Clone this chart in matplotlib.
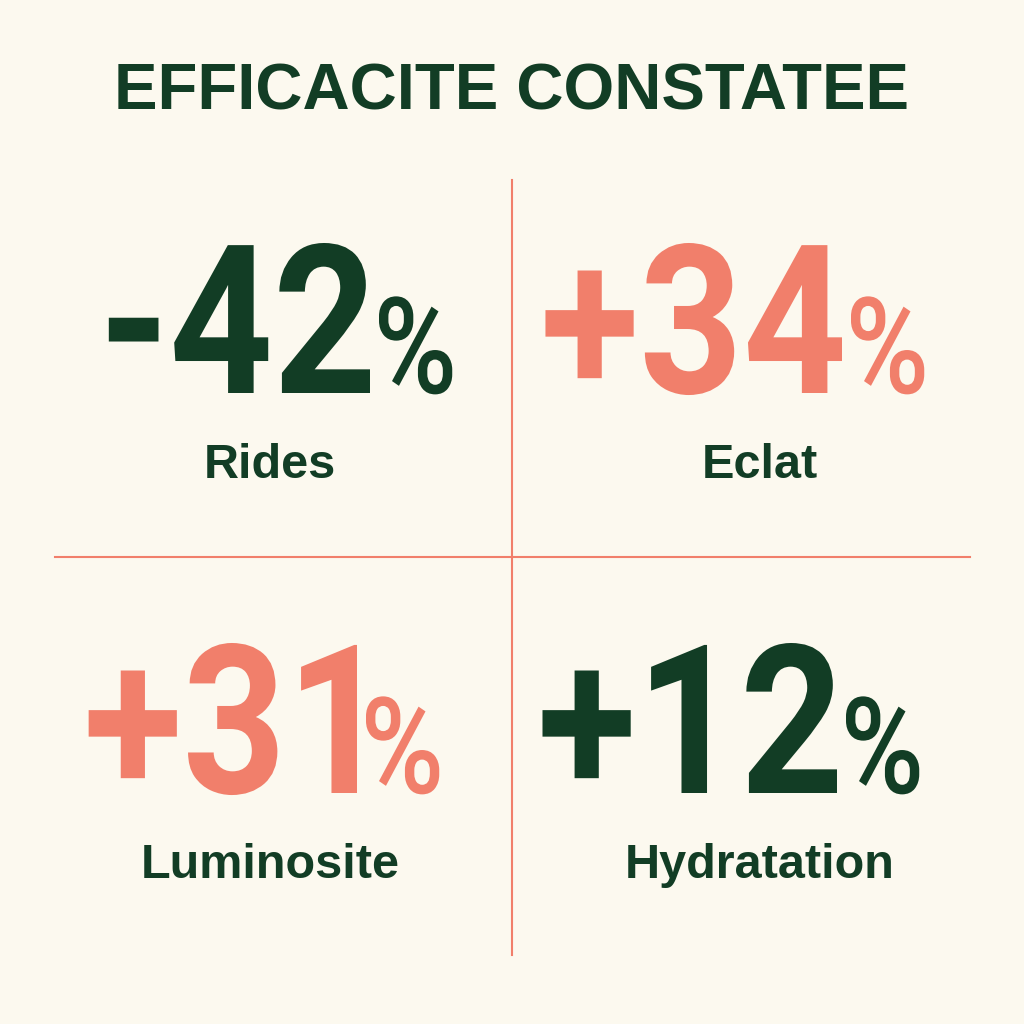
import matplotlib
matplotlib.use("Agg")
import matplotlib.pyplot as plt
from matplotlib.textpath import TextPath
from matplotlib.font_manager import FontProperties
from matplotlib.patches import PathPatch
from matplotlib.transforms import Affine2D

title = "EFFICACITE CONSTATEE"
values = ["-42", "+34", "+31", "+12"]
labels = ["Rides", "Eclat", "Luminosite", "Hydratation"]
GREEN = "#123d25"
CORAL = "#f17f6b"
colors = [GREEN, CORAL, CORAL, GREEN]
BG = "#fcf9ef"

fig = plt.figure(figsize=(10.24, 10.24), dpi=100, facecolor=BG)
ax = fig.add_axes([0, 0, 1, 1])
ax.set_xlim(0, 1024); ax.set_ylim(1024, 0); ax.axis("off")

def draw_path(s, x, ybase, size, xscale, color, weight, align):
    fp = FontProperties(family="Roboto", weight=weight)
    tp = TextPath((0, 0), s, size=size, prop=fp)
    ext = tp.get_extents()
    w = ext.width * xscale
    x0 = x - w - ext.x0 * xscale if align == "right" else x - ext.x0 * xscale
    tr = Affine2D().scale(xscale, -1).translate(x0, ybase)
    ax.add_patch(PathPatch(tr.transform_path(tp), facecolor=color, edgecolor="none"))

ax.text(512, 92, title, ha="center", va="center", fontsize=47,
        fontweight="heavy", color=GREEN, family="Liberation Sans")

ax.plot([512, 512], [180, 955], color=CORAL, lw=1.5)
ax.plot([55, 970], [557, 557], color=CORAL, lw=1.5)

layout = [(370, 393, 270, 465), (842, 393, 760, 465),
          (357, 793, 270, 865), (837, 793, 760, 865)]
for i, (v, lab, c) in enumerate(zip(values, labels, colors)):
    sx, base, cx, ly = layout[i]
    draw_path(v, sx, base, 208, 0.87, c, "bold", "right")
    draw_path("%", sx + 9, base, 134, 0.85, c, "medium", "left")
    ax.text(cx, ly, lab, ha="center", va="center", fontsize=35,
            fontweight="bold", color=GREEN, family="Liberation Sans")

fig.savefig("out.png", dpi=100, facecolor=BG)
